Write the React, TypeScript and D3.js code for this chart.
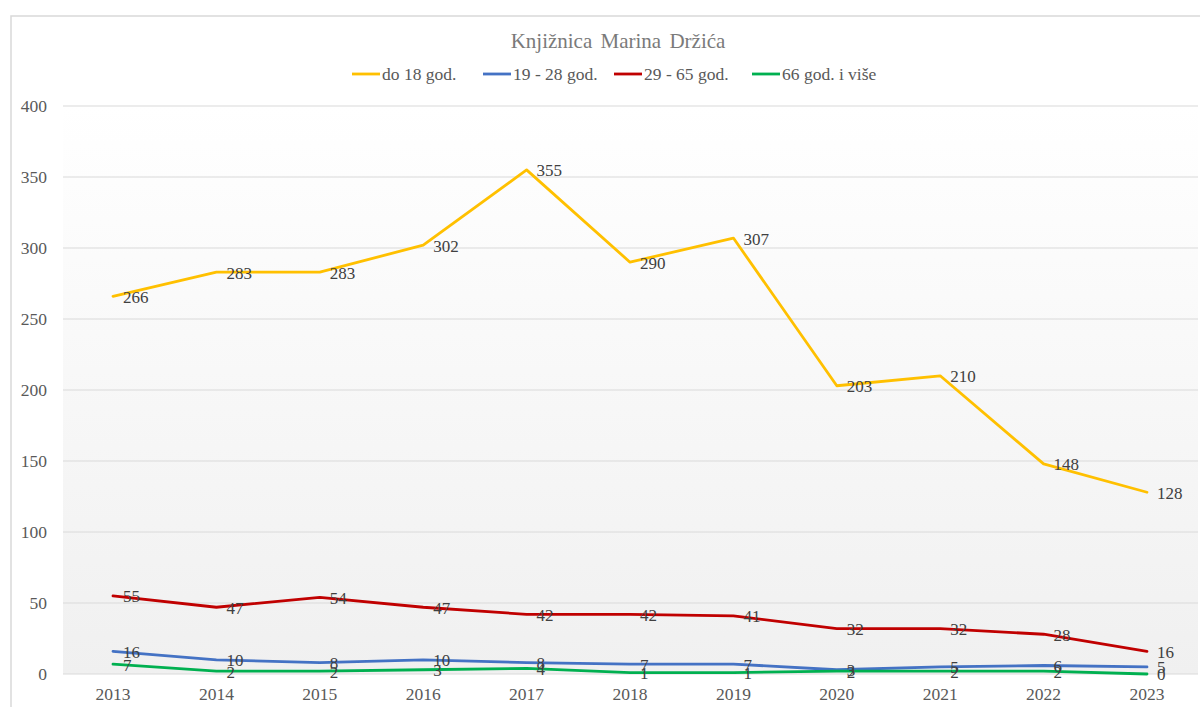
import React from "react";
import * as d3 from "d3";

const years = ["2013", "2014", "2015", "2016", "2017", "2018", "2019", "2020", "2021", "2022", "2023"];
const do18 = [266, 283, 283, 302, 355, 290, 307, 203, 210, 148, 128];
const od19do28 = [16, 10, 8, 10, 8, 7, 7, 3, 5, 6, 5];
const od29do65 = [55, 47, 54, 47, 42, 42, 41, 32, 32, 28, 16];
const od66 = [7, 2, 2, 3, 4, 1, 1, 2, 2, 2, 0];
const yTicks = [0, 50, 100, 150, 200, 250, 300, 350, 400];

const seriesNames = ["do 18 god.", "19 - 28 god.", "29 - 65 god.", "66 god. i više"];
const seriesColors = ["#FFC000", "#4472C4", "#C00000", "#00B050"];
const seriesData = [do18, od19do28, od29do65, od66];

const font = "'Liberation Serif', 'Times New Roman', serif";

const plot = { left: 63, right: 1198, top: 106, bottom: 674 };

export default function App() {
  const x = d3
    .scalePoint()
    .domain(years)
    .range([113, 1147]);

  const y = d3
    .scaleLinear()
    .domain([0, 400])
    .range([plot.bottom, plot.top]);

  const line = d3
    .line<number>()
    .x((d, i) => x(years[i]) as number)
    .y((d) => y(d));

  // legend item starts
  const legendX = [352, 483, 614, 752];

  return (
    <svg
      width={1200}
      height={707}
      style={{ position: "absolute", left: 0, top: 0, background: "white" }}
    >
      <defs>
        <linearGradient id="bg" x1="0" y1="0" x2="0" y2="1">
          <stop offset="0%" stopColor="#ffffff" />
          <stop offset="100%" stopColor="#f0f0f0" />
        </linearGradient>
      </defs>
      <rect x={11} y={16} width={1220} height={720} fill="white" stroke="#d9d9d9" strokeWidth={1.5} />
      <rect
        x={plot.left}
        y={plot.top}
        width={plot.right - plot.left}
        height={plot.bottom - plot.top}
        fill="url(#bg)"
      />

      {yTicks.map((t) => (
        <g key={`tick${t}`}>
          <line
            x1={plot.left}
            x2={plot.right}
            y1={y(t)}
            y2={y(t)}
            stroke="#d9d9d9"
            strokeWidth={1.2}
          />
          <text
            x={47}
            y={y(t)}
            dy="0.35em"
            textAnchor="end"
            fontFamily={font}
            fontSize={17.5}
            fill="#595959"
          >
            {t}
          </text>
        </g>
      ))}

      {years.map((yr) => (
        <text
          key={`yr${yr}`}
          x={x(yr)}
          y={700}
          textAnchor="middle"
          fontFamily={font}
          fontSize={17.5}
          fill="#595959"
        >
          {yr}
        </text>
      ))}

      {seriesData.map((s, k) => (
        <path
          key={`line${k}`}
          d={line(s) || ""}
          fill="none"
          stroke={seriesColors[k]}
          strokeWidth={2.8}
          strokeLinejoin="round"
          strokeLinecap="round"
        />
      ))}

      {seriesData.map((s, k) =>
        s.map((v, i) => (
          <text
            key={`lbl${k}-${i}`}
            x={(x(years[i]) as number) + 10}
            y={y(v)}
            dy="0.38em"
            fontFamily={font}
            fontSize={17}
            fill="#404040"
          >
            {v}
          </text>
        ))
      )}

      <text
        x={618}
        y={48}
        textAnchor="middle"
        fontFamily={font}
        fontSize={21}
        fill="#7a7a7a"
        style={{ wordSpacing: "3px" }}
      >
        Knjižnica Marina Držića
      </text>

      {seriesNames.map((n, k) => (
        <g key={`leg${k}`}>
          <line
            x1={legendX[k]}
            x2={legendX[k] + 28}
            y1={74}
            y2={74}
            stroke={seriesColors[k]}
            strokeWidth={2.8}
          />
          <text
            x={legendX[k] + 30}
            y={74}
            dy="0.35em"
            fontFamily={font}
            fontSize={17.5}
            fill="#595959"
          >
            {n}
          </text>
        </g>
      ))}
    </svg>
  );
}
